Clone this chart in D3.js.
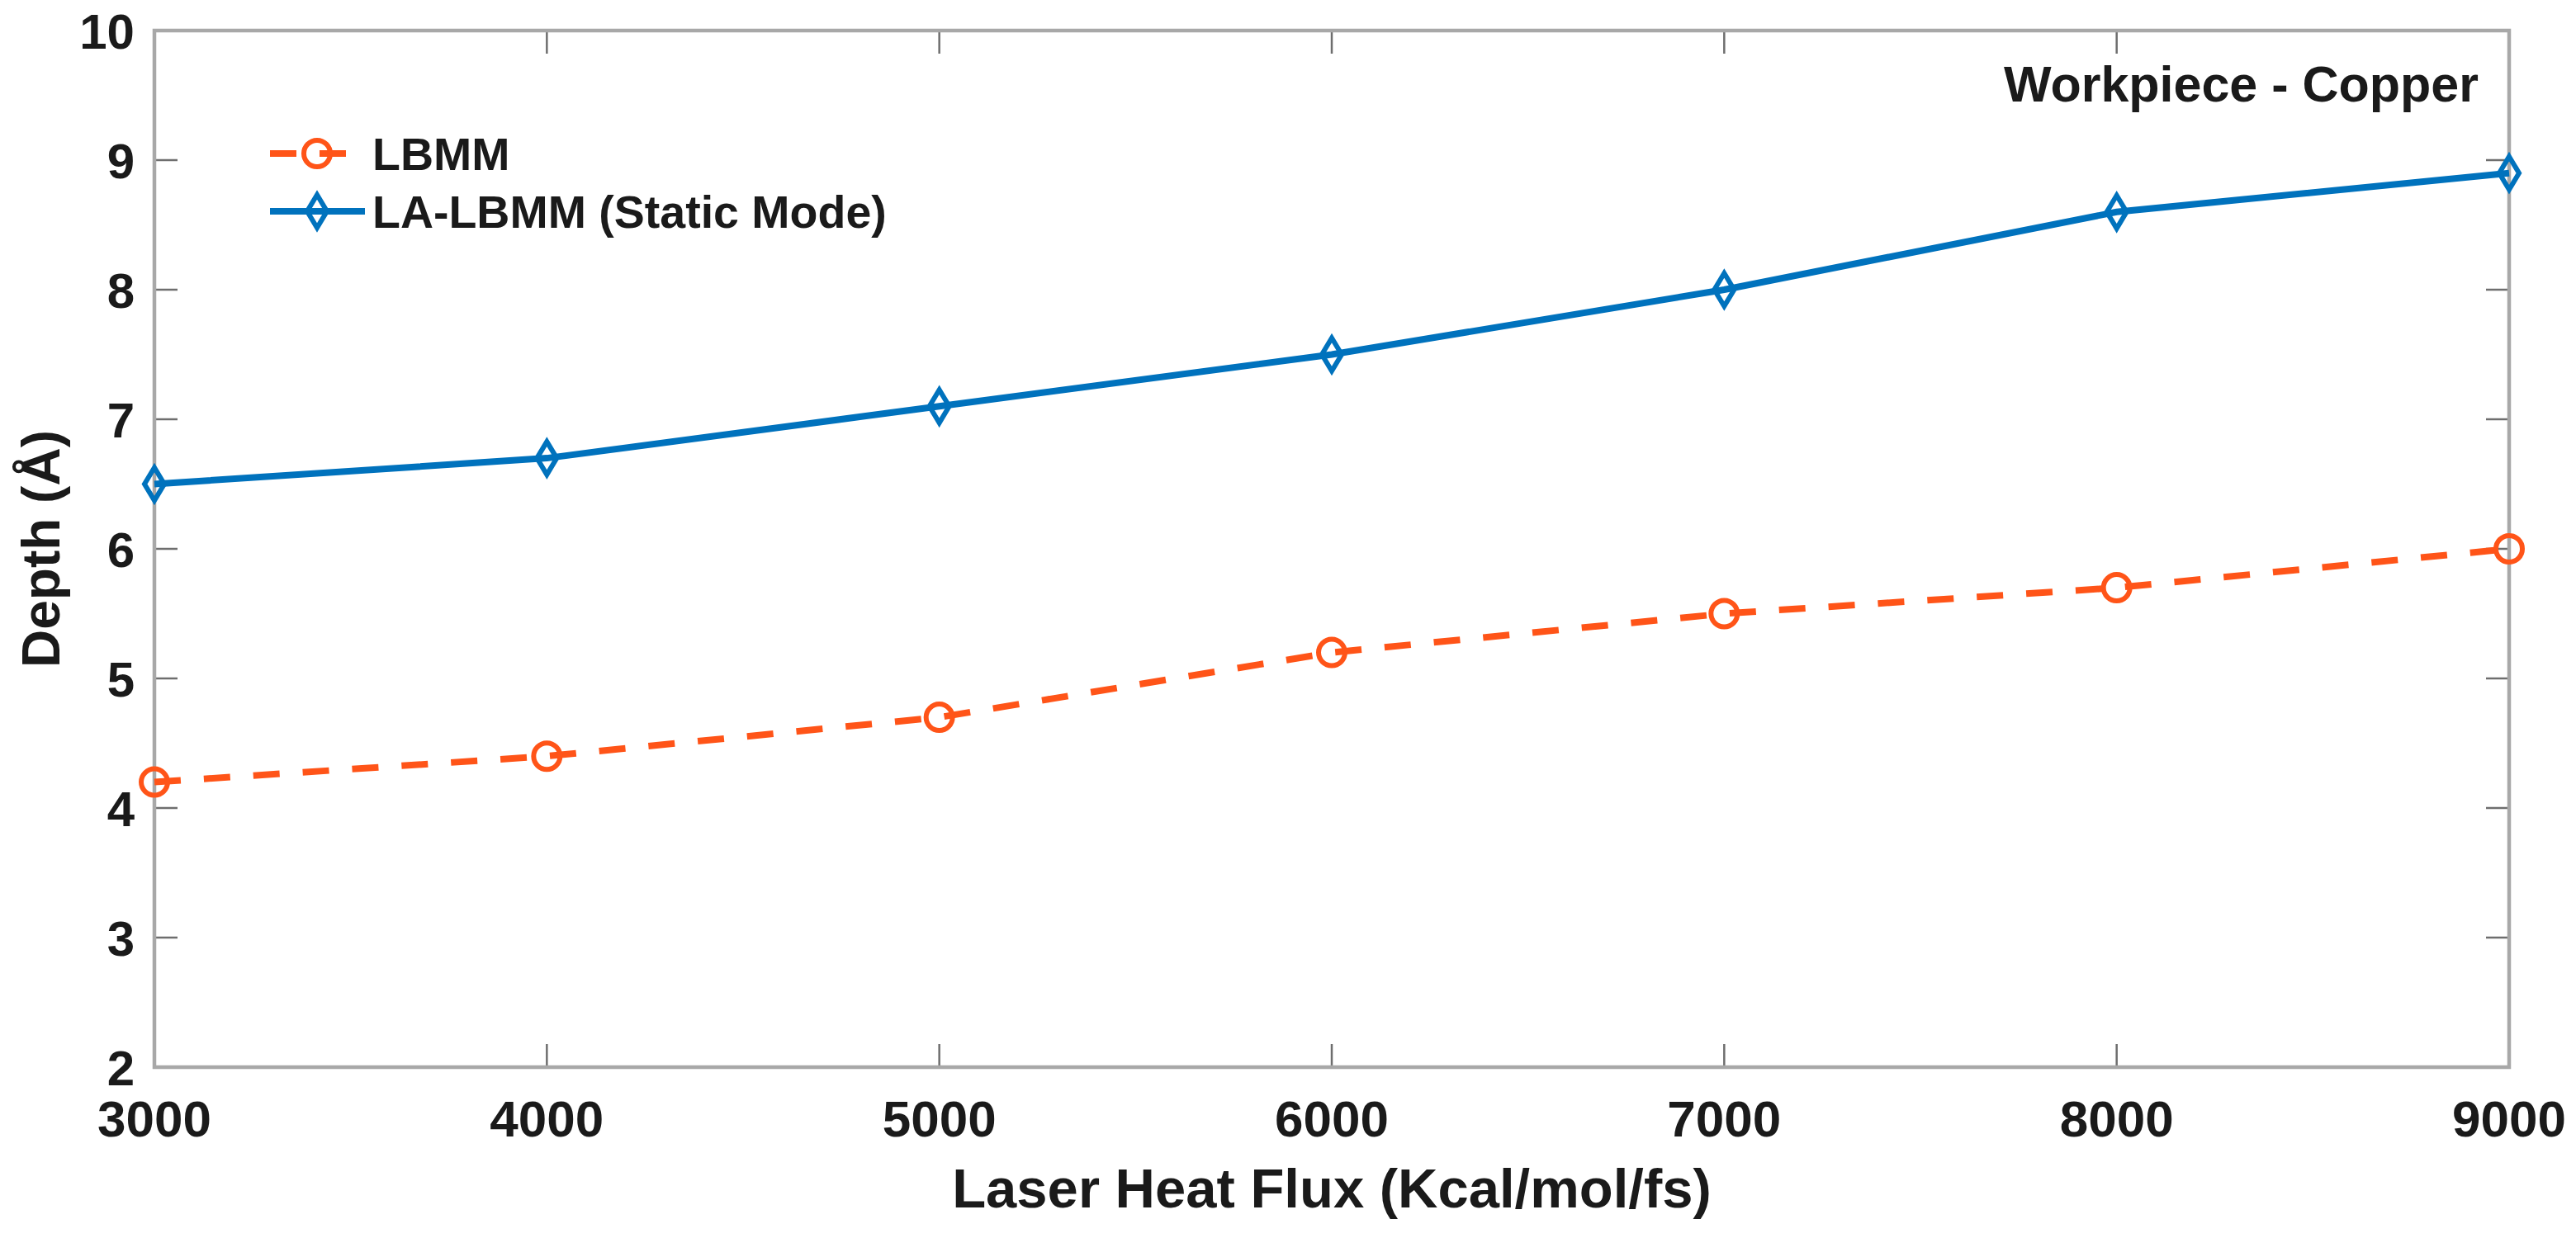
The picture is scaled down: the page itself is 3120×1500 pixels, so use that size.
<!DOCTYPE html>
<html>
<head>
<meta charset="utf-8">
<script src="https://cdn.jsdelivr.net/npm/d3@7"></script>
<style>
  body { margin: 0; background: #fff; }
  text { font-family: "Liberation Sans", Arial, Helvetica, sans-serif; font-weight: bold; fill: #1a1a1a; }
</style>
</head>
<body>
<svg id="chart" width="3120" height="1500"></svg>
<script>
// data
const heatFlux = [3000, 4000, 5000, 6000, 7000, 8000, 9000];
const depthLBMM = [4.2, 4.4, 4.7, 5.2, 5.5, 5.7, 6.0];
const depthLALBMM = [6.5, 6.7, 7.1, 7.5, 8.0, 8.6, 8.9];
const xTicks = [3000, 4000, 5000, 6000, 7000, 8000, 9000];
const yTicks = [2, 3, 4, 5, 6, 7, 8, 9, 10];
const seriesNames = ["LBMM", "LA-LBMM (Static Mode)"];

const margin = {top: 37, right: 81, bottom: 207, left: 187};
const W = 3120, H = 1500;
const w = W - margin.left - margin.right;
const h = H - margin.top - margin.bottom;

const orange = "#ff5418";
const blue = "#0072bd";
const frameColor = "#a8a8a8";
const tickColor = "#6e6e6e";

const svg = d3.select("#chart");
const g = svg.append("g").attr("transform", `translate(${margin.left},${margin.top})`);

const x = d3.scaleLinear().domain([3000, 9000]).range([0, w]);
const y = d3.scaleLinear().domain([2, 10]).range([h, 0]);

// inward ticks on all four sides
const tickLen = 28;
const ticks = g.append("g").attr("stroke", tickColor).attr("stroke-width", 2.5);
xTicks.forEach(t => {
    ticks.append("line").attr("x1", x(t)).attr("x2", x(t)).attr("y1", h).attr("y2", h - tickLen);
    ticks.append("line").attr("x1", x(t)).attr("x2", x(t)).attr("y1", 0).attr("y2", tickLen);
});
yTicks.forEach(t => {
    ticks.append("line").attr("x1", 0).attr("x2", tickLen).attr("y1", y(t)).attr("y2", y(t));
    ticks.append("line").attr("x1", w).attr("x2", w - tickLen).attr("y1", y(t)).attr("y2", y(t));
});

// box
g.append("rect")
    .attr("x", 0).attr("y", 0)
    .attr("width", w).attr("height", h)
    .attr("fill", "none")
    .attr("stroke", frameColor)
    .attr("stroke-width", 4.5);

// tick labels
g.selectAll(".xlab").data(xTicks).enter().append("text")
    .attr("x", d => x(d))
    .attr("y", h + 84)
    .attr("text-anchor", "middle")
    .style("font-size", "62px")
    .text(d => d);

g.selectAll(".ylab").data(yTicks).enter().append("text")
    .attr("x", -24)
    .attr("y", d => y(d))
    .attr("dy", "0.36em")
    .attr("text-anchor", "end")
    .style("font-size", "60px")
    .text(d => d);

// axis titles
g.append("text")
    .attr("x", w / 2)
    .attr("y", h + 170)
    .attr("text-anchor", "middle")
    .style("font-size", "67px")
    .text("Laser Heat Flux (Kcal/mol/fs)");

g.append("text")
    .attr("transform", `translate(${72 - margin.left},${h / 2}) rotate(-90)`)
    .attr("text-anchor", "middle")
    .style("font-size", "64px")
    .text("Depth (Å)");

g.append("text")
    .attr("x", 3002 - margin.left)
    .attr("y", 123 - margin.top)
    .attr("text-anchor", "end")
    .style("font-size", "61px")
    .text("Workpiece - Copper");

// markers
function diamondPath(hw, hh) {
    const p = d3.path();
    p.moveTo(0, -hh);
    p.lineTo(hw, 0);
    p.lineTo(0, hh);
    p.lineTo(-hw, 0);
    p.closePath();
    return p.toString();
}

const line = d3.line().x(d => x(d[0])).y(d => y(d[1]));

const lbmm = heatFlux.map((v, i) => [v, depthLBMM[i]]);
const lalbmm = heatFlux.map((v, i) => [v, depthLALBMM[i]]);

g.append("path")
    .datum(lbmm)
    .attr("d", line)
    .attr("fill", "none")
    .attr("stroke", orange)
    .attr("stroke-width", 8)
    .attr("stroke-dasharray", "32,28");

g.selectAll(".mk1").data(lbmm).enter().append("circle")
    .attr("cx", d => x(d[0]))
    .attr("cy", d => y(d[1]))
    .attr("r", 16)
    .attr("fill", "none")
    .attr("stroke", orange)
    .attr("stroke-width", 6);

g.append("path")
    .datum(lalbmm)
    .attr("d", line)
    .attr("fill", "none")
    .attr("stroke", blue)
    .attr("stroke-width", 8);

g.selectAll(".mk2").data(lalbmm).enter().append("path")
    .attr("transform", d => `translate(${x(d[0])},${y(d[1])})`)
    .attr("d", diamondPath(12, 20))
    .attr("fill", "none")
    .attr("stroke", blue)
    .attr("stroke-width", 6);

// legend
const legend = svg.append("g");
const legendRows = [
    {name: seriesNames[0], color: orange, dash: "32,28", marker: "circle", y: 186},
    {name: seriesNames[1], color: blue, dash: null, marker: "diamond", y: 256}
];
legendRows.forEach(r => {
    legend.append("line")
        .attr("x1", 327).attr("x2", 442)
        .attr("y1", r.y).attr("y2", r.y)
        .attr("stroke", r.color)
        .attr("stroke-width", 8)
        .attr("stroke-dasharray", r.dash);
    if (r.marker === "circle") {
        legend.append("circle")
            .attr("cx", 384).attr("cy", r.y).attr("r", 16)
            .attr("fill", "none").attr("stroke", r.color).attr("stroke-width", 6);
    } else {
        legend.append("path")
            .attr("transform", `translate(384,${r.y})`)
            .attr("d", diamondPath(12, 20))
            .attr("fill", "none").attr("stroke", r.color).attr("stroke-width", 6);
    }
    legend.append("text")
        .attr("x", 451)
        .attr("y", r.y)
        .attr("dy", "0.36em")
        .style("font-size", "55.5px")
        .text(r.name);
});
</script>
</body>
</html>
